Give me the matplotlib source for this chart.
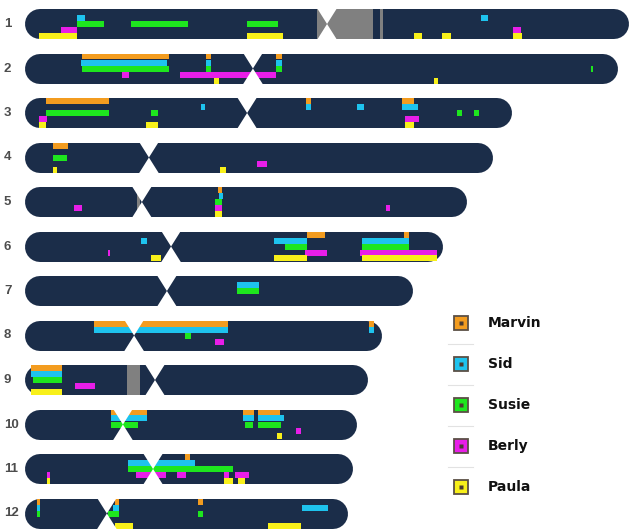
import numpy as np
import matplotlib.pyplot as plt
from matplotlib.patches import Polygon, Rectangle
from matplotlib.transforms import blended_transform_factory

# chromosome sizes / centromeres, in Mb
chroms = ['1', '2', '3', '4', '5', '6', '7', '8', '9', '10', '11', '12']
lengths = [248.6, 244.0, 200.4, 192.6, 181.9, 172.0, 159.7, 146.9, 141.2, 136.6, 135.0, 132.9]
centromeres = [124.3, 93.8, 91.4, 51.0, 48.1, 60.1, 58.4, 44.9, 53.5, 40.3, 52.7, 33.7]
# grey heterochromatin blocks (chrom, start, end)
grey_blocks = [(1, 120.2, 143.2), (1, 146.1, 147.3), (5, 46.1, 47.3), (9, 42.0, 47.3)]

people = ['Marvin', 'Sid', 'Susie', 'Berly', 'Paula']
colors = ['#f39c1f', '#1ec3ee', '#1ee61e', '#e81ee8', '#f8f01a']

# segments per person: (chrom, start Mb, end Mb)
marvin = [(2, 23.5, 59.3), (2, 74.5, 76.5), (2, 103.3, 105.8),
          (3, 8.6, 34.6), (3, 115.6, 117.7), (3, 155.1, 160.1),
          (4, 11.5, 17.7), (5, 79.4, 81.1),
          (6, 116.0, 123.5), (6, 156.0, 158.0),
          (8, 28.4, 83.5), (8, 141.6, 143.6), (9, 2.5, 15.2),
          (10, 35.4, 50.2), (10, 89.7, 94.2), (10, 95.9, 104.9),
          (11, 65.8, 67.9),
          (12, 4.9, 6.2), (12, 37.0, 38.7), (12, 71.2, 73.3)]
sid = [(1, 21.4, 24.7), (1, 187.7, 190.5),
       (2, 23.0, 58.4), (2, 74.5, 76.5), (2, 103.3, 105.8),
       (3, 72.4, 74.1), (3, 115.6, 117.7), (3, 136.6, 139.5), (3, 155.1, 161.7),
       (5, 79.8, 81.5),
       (6, 47.7, 50.2), (6, 102.5, 116.0), (6, 138.7, 158.0),
       (7, 87.2, 96.3), (8, 28.4, 83.5), (8, 141.6, 143.6), (9, 2.5, 15.2),
       (10, 35.4, 50.2), (10, 89.7, 94.2), (10, 95.9, 106.6),
       (11, 42.4, 70.0),
       (12, 4.9, 6.2), (12, 36.2, 38.7), (12, 114.0, 124.7)]
susie = [(1, 21.4, 32.5), (1, 43.6, 67.1), (1, 91.4, 104.1),
         (2, 23.5, 59.3), (2, 74.5, 76.5), (2, 103.3, 105.8), (2, 232.9, 233.7),
         (3, 8.6, 34.6), (3, 51.9, 54.7), (3, 177.8, 179.8), (3, 184.8, 186.8),
         (4, 11.5, 17.3), (5, 78.2, 81.1),
         (6, 107.0, 116.0), (6, 138.7, 158.0),
         (7, 87.2, 96.3), (8, 65.8, 68.3), (9, 3.3, 15.2),
         (10, 35.4, 46.5), (10, 90.5, 93.8), (10, 95.9, 105.3),
         (11, 42.4, 85.6),
         (12, 4.9, 6.2), (12, 34.2, 38.7), (12, 71.2, 73.3)]
berly = [(1, 14.8, 21.4), (1, 200.8, 204.1),
         (2, 39.9, 42.8), (2, 63.8, 103.3),
         (3, 5.8, 9.1), (3, 156.4, 162.1),
         (4, 95.5, 99.6),
         (5, 20.2, 23.5), (5, 78.2, 81.1), (5, 148.6, 150.2),
         (6, 34.2, 35.0), (6, 115.2, 124.3), (6, 137.9, 169.5),
         (8, 78.2, 81.9), (9, 20.6, 28.8), (10, 111.5, 113.6),
         (11, 9.1, 10.3), (11, 45.7, 58.0), (11, 62.6, 66.3), (11, 81.9, 84.0), (11, 86.4, 92.2)]
paula = [(1, 5.8, 21.4), (1, 91.4, 106.2), (1, 160.1, 163.4), (1, 171.6, 175.3), (1, 200.8, 204.5),
         (2, 77.8, 79.8), (2, 168.3, 170.0),
         (3, 5.8, 8.6), (3, 49.8, 54.7), (3, 156.4, 160.1),
         (4, 11.5, 13.2), (4, 80.2, 82.7), (5, 78.2, 81.1),
         (6, 51.9, 56.0), (6, 102.5, 116.0), (6, 138.7, 169.5),
         (9, 2.5, 15.2), (10, 103.7, 105.8),
         (11, 9.1, 10.3), (11, 81.9, 85.6), (11, 87.7, 90.5),
         (12, 37.0, 44.4), (12, 100.0, 113.6)]
segments = [marvin, sid, susie, berly, paula]

navy = '#1b2d49'
px_mb = 2.43          # pixels per Mb
row_px = 44.5         # pixels between rows
bar_h = 30 / row_px
lane_h = bar_h / 5
cap = 15 / px_mb
notch = 10 / px_mb

fig = plt.figure(figsize=(6.32, 5.32), dpi=100)
ax = fig.add_axes([0, 0, 1, 1])
ax.set_xlim(-25 / px_mb, 607 / px_mb)
ax.set_ylim(1 + 508 / row_px, 1 - 24 / row_px)
ax.axis('off')

for i, (name, L) in enumerate(zip(chroms, lengths)):
    y = i + 1
    ax.plot([cap, L - cap], [y, y], color=navy, lw=30 * 0.72,
            solid_capstyle='round', zorder=1)

for c, s, e in grey_blocks:
    ax.add_patch(Rectangle((s, c - bar_h / 2), e - s, bar_h, color='#808080', lw=0, zorder=2))

for k, segs in enumerate(segments):
    for c, s, e in segs:
        top = c - bar_h / 2 + k * lane_h
        ax.add_patch(Rectangle((s, top), e - s, lane_h, color=colors[k], lw=0, zorder=3))

# centromere notches
for i, cm in enumerate(centromeres):
    y = i + 1
    t = y - bar_h / 2 - 0.02
    b = y + bar_h / 2 + 0.02
    ax.add_patch(Polygon([(cm - notch, t), (cm + notch, t), (cm, y)], color='white', lw=0, zorder=4))
    ax.add_patch(Polygon([(cm - notch, b), (cm + notch, b), (cm, y)], color='white', lw=0, zorder=4))

# chromosome labels
tr = blended_transform_factory(ax.transAxes, ax.transData)
for i, name in enumerate(chroms):
    ax.text(4 / 632, i + 1, name, transform=tr, ha='left', va='center',
            fontsize=9.5, color='#4d4d4d', fontweight='bold', family='Liberation Sans')

# legend
W, H = 632, 532
for k, p in enumerate(people):
    yp = 323 + 41 * k
    ax.plot(460.5 / W, 1 - yp / H, marker='s', ms=10, mfc=colors[k], mec='#5b4f45',
            mew=1.3, transform=ax.transAxes, zorder=5)
    ax.plot(460.5 / W, 1 - yp / H, marker='s', ms=2.2, mfc='#4a3a30', mec='none',
            transform=ax.transAxes, zorder=6)
    ax.text(488 / W, 1 - yp / H, p, transform=ax.transAxes, ha='left', va='center',
            fontsize=10, fontweight='bold', color='#111111')
    if k < 4:
        ys = 1 - (yp + 20.5) / H
        ax.plot([448 / W, 473 / W], [ys, ys], color='#e2e2e2', lw=0.8, transform=ax.transAxes)

plt.savefig('out.png', dpi=100, facecolor='white')
